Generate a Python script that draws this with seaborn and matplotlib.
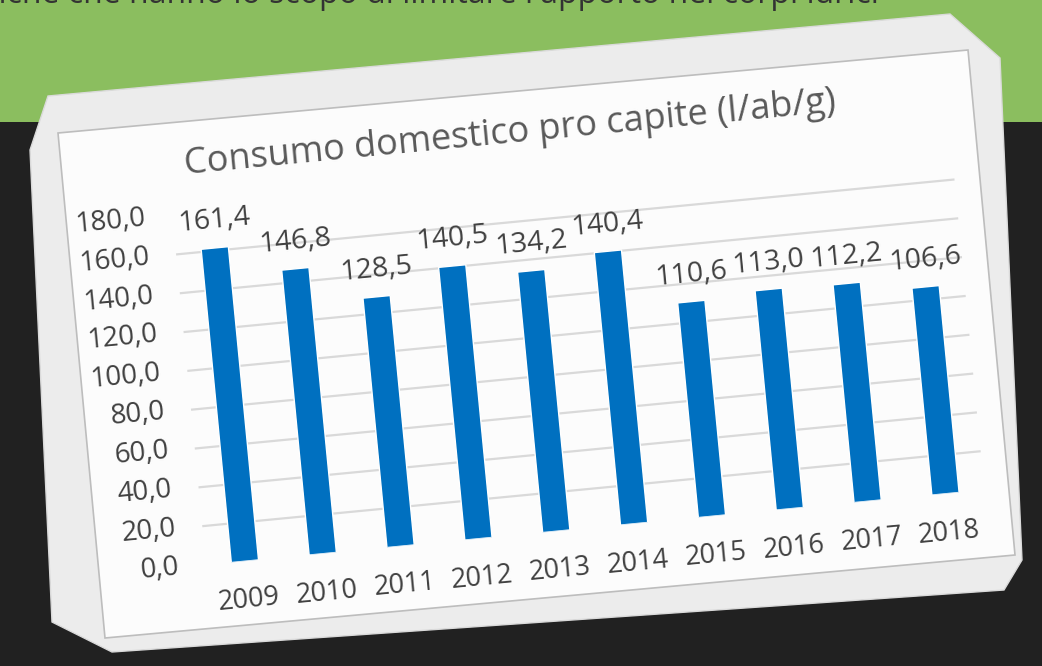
import numpy as np
import pandas as pd
import matplotlib
matplotlib.use("Agg")
import matplotlib.pyplot as plt
import seaborn as sns
from matplotlib.transforms import Affine2D
from matplotlib.patches import Polygon, Rectangle
from mpl_toolkits.axisartist import floating_axes
from mpl_toolkits.axisartist.grid_finder import FixedLocator, DictFormatter

# ---------------- data ----------------
years = ["2009", "2010", "2011", "2012", "2013", "2014", "2015", "2016", "2017", "2018"]
values = [161.4, 146.8, 128.5, 140.5, 134.2, 140.4, 110.6, 113.0, 112.2, 106.6]
y_ticks = [0, 20, 40, 60, 80, 100, 120, 140, 160, 180]
y_tick_labels = ["0,0", "20,0", "40,0", "60,0", "80,0", "100,0", "120,0", "140,0", "160,0", "180,0"]
title = "Consumo domestico pro capite (l/ab/g)"
header_text = "anche che hanno lo scopo di limitare l'apporto nei corpi idrici"

# ---------------- style ----------------
sns.set_theme(style="white")
plt.rcParams['font.family'] = ['Open Sans', 'DejaVu Sans']

W, H = 1042, 666
fig = plt.figure(figsize=(W / 100, H / 100), dpi=100, facecolor="#212121")

def fp(pts):
    return [(x / W, 1 - y / H) for x, y in pts]

# green header band
fig.add_artist(Rectangle((0, 1 - 122 / H), 1, 122 / H, transform=fig.transFigure,
                         facecolor="#8BBE5F", edgecolor="none", zorder=0))
fig.text(-0.03, 1 - 3 / H, header_text, fontsize=23, color="#333333",
         va="baseline", ha="left", zorder=1)

# card (outer frame + inner face)
outer = fp([(48, 96), (950, 14), (1000, 58), (1022, 560), (1004, 590),
            (112, 652), (52, 622), (30, 150)])
fig.add_artist(Polygon(outer, closed=True, transform=fig.transFigure,
                       facecolor="#ECECEC", edgecolor="#DADADA", lw=1, zorder=1))
inner = fp([(58, 133), (968, 50), (1015, 555), (105, 638)])
fig.add_artist(Polygon(inner, closed=True, transform=fig.transFigure,
                       facecolor="#FCFCFC", edgecolor="#BDBDBD", lw=1.2, zorder=1.5))

# ---------------- rotated chart (floating axes) ----------------
angle = 5.5
n = len(years)
x_ext = (-0.5, n - 0.5)
y_ext = (0, 180)
plot_w, plot_h = 782.0, 351.0          # pixel size of the plot area (rotated frame)
sx = plot_w / (x_ext[1] - x_ext[0])
sy = plot_h / (y_ext[1] - y_ext[0])
tr = Affine2D().scale(sx, sy).rotate_deg(angle)

corners = tr.transform([[x_ext[0], y_ext[0]], [x_ext[1], y_ext[0]],
                        [x_ext[0], y_ext[1]], [x_ext[1], y_ext[1]]])
bx0, by0 = corners.min(axis=0)
bx1, by1 = corners.max(axis=0)
origin_px = (206.0, H - 565.0)          # where (x_min, 0) lands, in pixels
left = origin_px[0] - (corners[0, 0] - bx0)
bottom = origin_px[1] - (corners[0, 1] - by0)
bw, bh = bx1 - bx0, by1 - by0
# FloatingAxes pads its limits by 2 %, compensate so the scale stays 1 px / unit
cx, cy = left + bw / 2, bottom + bh / 2
bw2, bh2 = bw * 1.02, bh * 1.02
rect = [(cx - bw2 / 2) / W, (cy - bh2 / 2) / H, bw2 / W, bh2 / H]

grid_helper = floating_axes.GridHelperCurveLinear(
    tr, extremes=(x_ext[0], x_ext[1], y_ext[0], y_ext[1]),
    grid_locator1=FixedLocator(list(range(n))),
    tick_formatter1=DictFormatter(dict(zip(range(n), years))),
    grid_locator2=FixedLocator(y_ticks),
    tick_formatter2=DictFormatter(dict(zip(y_ticks, y_tick_labels))),
)
ax = fig.add_axes(rect, axes_class=floating_axes.FloatingAxes, grid_helper=grid_helper)
ax.set_zorder(2)
ax.patch.set_facecolor("none")
ax.patch.set_edgecolor("none")

text_col = "#595959"
lab_col = "#404040"
for k in ["left", "right", "bottom", "top"]:
    ax.axis[k].line.set_visible(False)
    ax.axis[k].major_ticks.set_visible(False)
    ax.axis[k].minor_ticks.set_visible(False)
ax.axis["top"].major_ticklabels.set_visible(False)
ax.axis["right"].major_ticklabels.set_visible(False)
ax.axis["left"].major_ticklabels.set(fontsize=20, color=lab_col)
ax.axis["left"].major_ticklabels.set_pad(19)
ax.axis["bottom"].major_ticklabels.set(fontsize=19.5, color=lab_col)
ax.axis["bottom"].major_ticklabels.set_pad(19)

ax.grid(True, axis="y", color="#D9D9D9", lw=1.6)
ax.gridlines.set_zorder(0.5)

aux = ax.get_aux_axes(tr)
aux.patch = ax.patch

df = pd.DataFrame({"anno": years, "consumo": values})
sns.barplot(data=df, x="anno", y="consumo", ax=aux, color="#0070C0",
            saturation=1, width=0.35, zorder=3)

labels = [f"{v:.1f}".replace(".", ",") for v in values]
aux.bar_label(aux.containers[0], labels=labels, padding=7, rotation=angle,
              fontsize=20.5, color=lab_col)

aux.text(3.9, 205, title, rotation=angle, rotation_mode="anchor", ha="center",
         va="center", fontsize=26, color=text_col, clip_on=False)

fig.savefig("out.png", dpi=100, facecolor=fig.get_facecolor())
